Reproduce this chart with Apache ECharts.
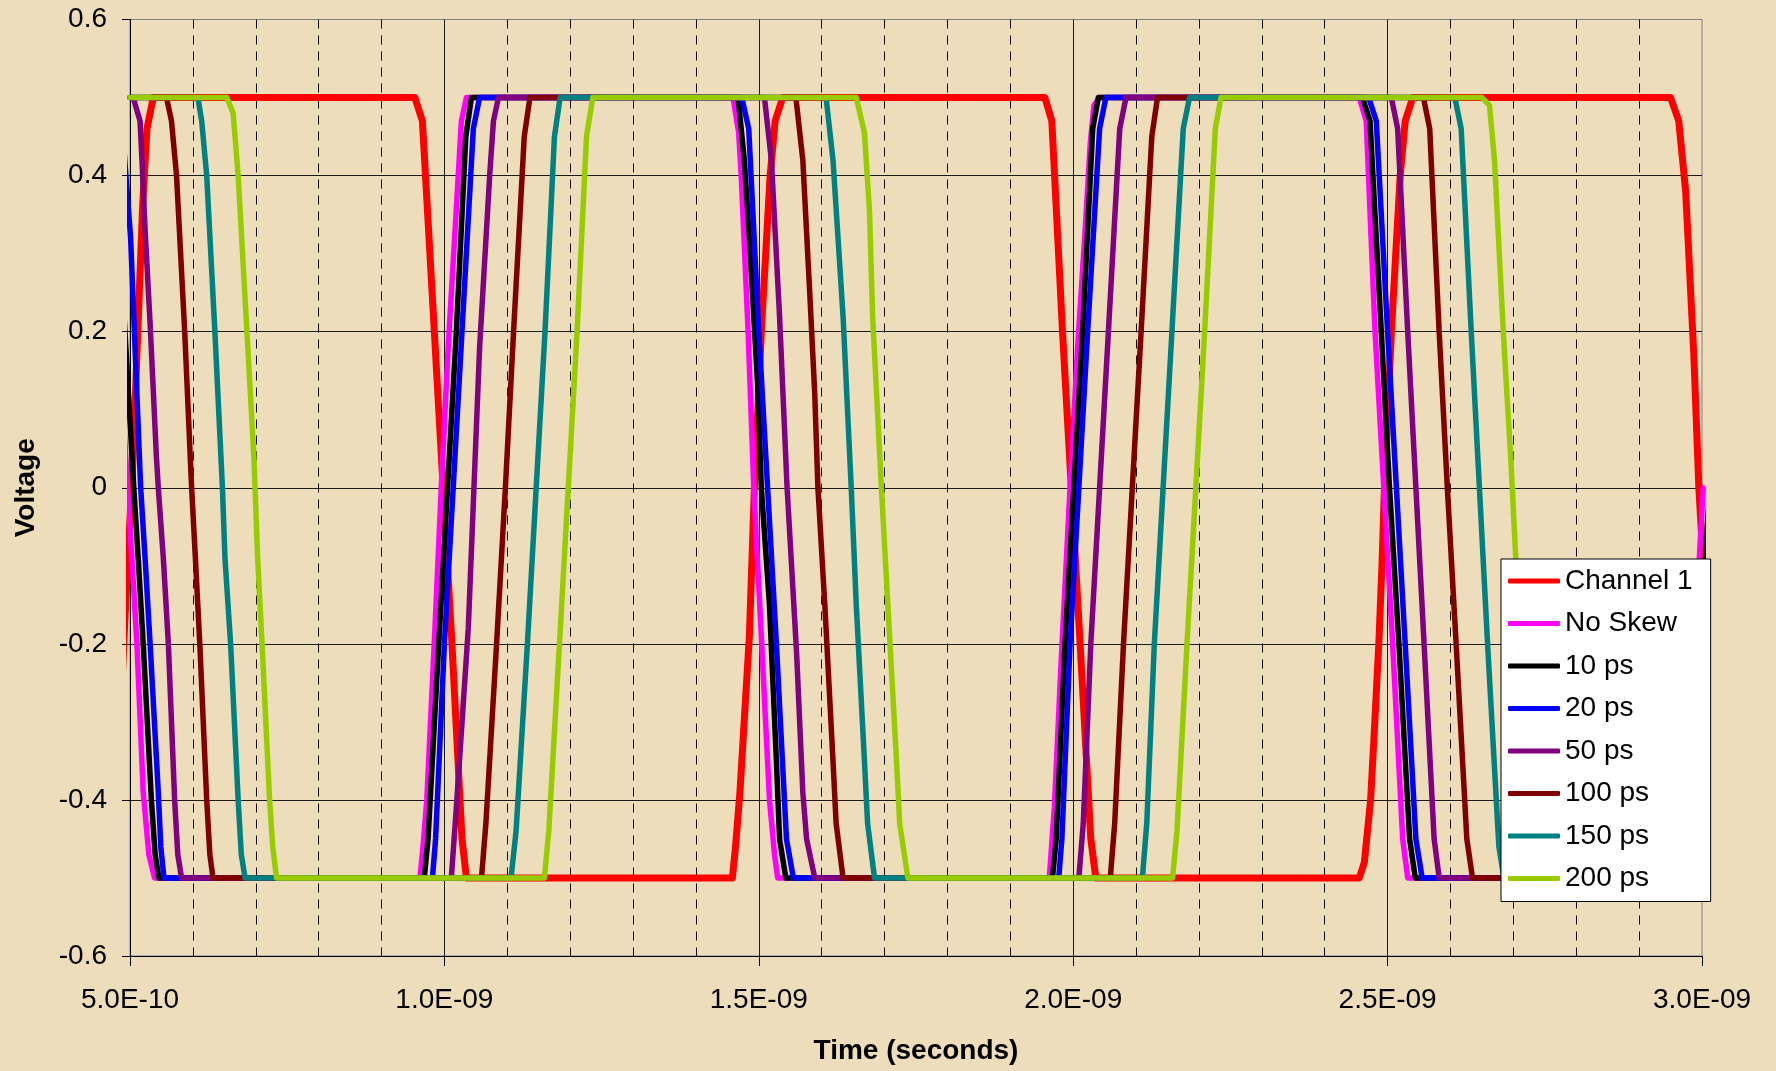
<!DOCTYPE html>
<html>
<head>
<meta charset="utf-8">
<title>Skewed channel waveforms</title>
<script src="https://cdn.jsdelivr.net/npm/echarts@6/dist/echarts.min.js"></script>
<style>
  html, body { margin: 0; padding: 0; background: #EEDDBA; }
  #chart { width: 1776px; height: 1071px; }
</style>
</head>
<body>
<div id="chart"></div>
<script>
// Time in picoseconds, voltage in volts.
const channel1 = [
  [470,-0.5],[478,-0.44],[490,-0.2],[505,0.04],[511,0.17],[520,0.36],[527,0.46],[537,0.5],
  [953,0.5],[965,0.47],[984,0.2],[998,0],[1012,-0.2],[1028,-0.45],[1035,-0.5],
  [1458,-0.5],[1463,-0.46],[1470,-0.39],[1485,-0.19],[1493,0],[1504,0.2],[1518,0.4],[1526,0.47],[1538,0.5],
  [1955,0.5],[1966,0.47],[1983,0.2],[1997,0],[2011,-0.2],[2028,-0.45],[2036,-0.5],
  [2455,-0.5],[2463,-0.48],[2468,-0.44],[2473,-0.4],[2479,-0.31],[2486,-0.2],[2491,-0.1],[2495,0],[2506,0.2],[2520,0.4],[2528,0.47],[2540,0.5],
  [2950,0.5],[2963,0.47],[2974,0.38],[2987,0.17],[2995,0],[3009,-0.2]
];
const noSkew = [
  [451,0.5],[463,0.47],[482,0.2],[496,0],[503,-0.09],[511,-0.2],[521,-0.39],[530,-0.47],[539,-0.5],
  [961,-0.5],[966,-0.46],[972,-0.4],[985,-0.18],[995,0],[1006,0.18],[1022,0.4],[1027,0.47],[1035,0.5],
  [1459,0.5],[1468,0.455],[1472,0.4],[1483,0.2],[1492,0],[1504,-0.19],[1517,-0.4],[1525,-0.47],[1530,-0.5],
  [1962,-0.5],[1970,-0.41],[1981,-0.22],[1995,0],[2007,0.18],[2019,0.33],[2027,0.44],[2033,0.49],[2042,0.5],
  [2455,0.5],[2466,0.47],[2480,0.2],[2494,0],[2508,-0.2],[2524,-0.45],[2532,-0.5],
  [2965,-0.5],[2972,-0.45],[2988,-0.2],[3002,0]
];
const skew10 = [
  [461,0.5],[473,0.47],[492,0.2],[506,0],[513,-0.09],[521,-0.2],[534,-0.4],[540,-0.47],[546,-0.5],
  [968,-0.5],[974,-0.45],[991,-0.2],[1005,0],[1019,0.2],[1034,0.45],[1043,0.5],
  [1467,0.5],[1477,0.42],[1485,0.32],[1499,0.12],[1504,0],[1517,-0.15],[1528,-0.35],[1533,-0.45],[1543,-0.5],
  [1967,-0.5],[1973,-0.45],[1987,-0.2],[2001,0],[2015,0.2],[2031,0.46],[2040,0.5],
  [2460,0.5],[2472,0.47],[2490,0.2],[2503,0],[2518,-0.2],[2535,-0.45],[2544,-0.5],
  [2975,-0.5],[2982,-0.45],[2998,-0.2],[3012,0]
];
const skew20 = [
  [475,0.5],[487,0.47],[501,0.32],[517,0],[524,-0.09],[532,-0.2],[545,-0.39],[549,-0.46],[554,-0.5],
  [981,-0.5],[986,-0.45],[1000,-0.2],[1014,0],[1028,0.2],[1046,0.46],[1056,0.5],
  [1473,0.5],[1484,0.46],[1500,0.2],[1514,0],[1528,-0.2],[1544,-0.45],[1555,-0.5],
  [1977,-0.5],[1982,-0.45],[1995,-0.2],[2009,0],[2023,0.2],[2042,0.46],[2052,0.5],
  [2470,0.5],[2482,0.47],[2500,0.2],[2514,0],[2528,-0.2],[2545,-0.45],[2555,-0.5],
  [2985,-0.5],[2992,-0.45],[3008,-0.2]
];
const skew50 = [
  [500,0.5],[505,0.5],[516,0.47],[519,0.42],[524,0.33],[532,0.21],[542,0.04],[545,0],[553,-0.09],[561,-0.2],[571,-0.4],[576,-0.47],[582,-0.5],
  [1011,-0.5],[1019,-0.41],[1038,-0.18],[1047,0],[1056,0.18],[1072,0.4],[1078,0.47],[1086,0.5],
  [1509,0.5],[1520,0.42],[1533,0.22],[1545,0],[1560,-0.21],[1570,-0.39],[1576,-0.45],[1589,-0.5],
  [2009,-0.5],[2016,-0.43],[2028,-0.2],[2042,0],[2056,0.2],[2074,0.46],[2084,0.5],
  [2506,0.5],[2516,0.46],[2532,0.2],[2545,0],[2558,-0.2],[2574,-0.45],[2582,-0.5],
  [3000,-0.5]
];
const skew100 = [
  [500,0.5],[558,0.5],[566,0.47],[574,0.4],[587,0.2],[598,0],[604,-0.09],[611,-0.2],[622,-0.4],[627,-0.47],[632,-0.5],
  [1059,-0.5],[1066,-0.43],[1083,-0.2],[1097,0],[1110,0.2],[1127,0.45],[1136,0.5],
  [1559,0.5],[1570,0.42],[1581,0.25],[1589,0.12],[1594,0],[1605,-0.15],[1618,-0.35],[1623,-0.43],[1634,-0.5],
  [2059,-0.5],[2066,-0.43],[2080,-0.2],[2094,0],[2108,0.2],[2125,0.45],[2134,0.5],
  [2557,0.5],[2567,0.46],[2582,0.2],[2595,0],[2609,-0.2],[2626,-0.45],[2635,-0.5],
  [3000,-0.5]
];
const skew150 = [
  [500,0.5],[608,0.5],[614,0.47],[622,0.4],[635,0.2],[647,0],[651,-0.09],[660,-0.2],[672,-0.4],[677,-0.47],[683,-0.5],
  [1106,-0.5],[1114,-0.44],[1132,-0.2],[1146,0],[1160,0.2],[1175,0.45],[1184,0.5],
  [1607,0.5],[1618,0.42],[1634,0.22],[1647,0],[1655,-0.15],[1668,-0.35],[1673,-0.43],[1684,-0.5],
  [2110,-0.5],[2117,-0.43],[2129,-0.2],[2143,0],[2157,0.2],[2175,0.46],[2185,0.5],
  [2607,0.5],[2617,0.46],[2633,0.2],[2646,0],[2659,-0.2],[2677,-0.46],[2685,-0.5],
  [3000,-0.5]
];
const skew200 = [
  [500,0.5],[654,0.5],[664,0.48],[672,0.4],[686,0.2],[697,0.04],[703,-0.09],[710,-0.2],[722,-0.4],[727,-0.46],[733,-0.5],
  [1159,-0.5],[1166,-0.44],[1183,-0.2],[1197,0],[1211,0.2],[1226,0.45],[1236,0.5],
  [1655,0.5],[1668,0.455],[1676,0.355],[1681,0.22],[1695,0],[1708,-0.19],[1719,-0.35],[1724,-0.43],[1737,-0.5],
  [2158,-0.5],[2165,-0.44],[2181,-0.2],[2195,0],[2209,0.2],[2226,0.46],[2235,0.5],
  [2650,0.5],[2662,0.49],[2670,0.42],[2677,0.31],[2685,0.185],[2696,0.036],[2704,-0.093],[2711,-0.2],[2723,-0.4],[2729,-0.47],[2736,-0.5],
  [3000,-0.5]
];

const seriesNames = ['Channel 1', 'No Skew', '10 ps', '20 ps', '50 ps', '100 ps', '150 ps', '200 ps'];
const seriesData = [channel1, noSkew, skew10, skew20, skew50, skew100, skew150, skew200];
const seriesColors = ['#FF0000', '#FF00FF', '#000000', '#0000FF', '#800080', '#800000', '#008080', '#99CC00'];
const seriesWidths = [7, 5.5, 5.5, 5.5, 5.5, 5.5, 5.5, 5.5];

const xTickValues = [500, 1000, 1500, 2000, 2500, 3000];
const xTickLabels = ['5.0E-10', '1.0E-09', '1.5E-09', '2.0E-09', '2.5E-09', '3.0E-09'];
const yTickValues = [-0.6, -0.4, -0.2, 0, 0.2, 0.4, 0.6];
const yTickLabels = ['-0.6', '-0.4', '-0.2', '0', '0.2', '0.4', '0.6'];

const FONT = '"Liberation Sans", Arial, Helvetica, sans-serif';

function nearestLabel(values, labels, v) {
  let best = 0;
  for (let i = 1; i < values.length; i++) {
    if (Math.abs(values[i] - v) < Math.abs(values[best] - v)) best = i;
  }
  return labels[best];
}

const chart = echarts.init(document.getElementById('chart'), null, { renderer: 'canvas' });

const option = {
  animation: false,
  textStyle: { fontFamily: FONT },
  grid: {
    left: 130, right: 74, top: 19.5, bottom: 115,
    show: true, borderColor: '#808080', borderWidth: 1, backgroundColor: 'transparent'
  },
  xAxis: {
    type: 'value',
    min: 500, max: 3000, interval: 500,
    name: 'Time (seconds)',
    nameLocation: 'middle',
    nameGap: 81,
    nameTextStyle: { fontFamily: FONT, fontSize: 28, fontWeight: 'bold', color: '#000' },
    axisLine: { show: true, onZero: false, lineStyle: { color: '#000', width: 1 } },
    axisTick: { show: true, inside: false, length: 10, lineStyle: { color: '#000', width: 1 } },
    axisLabel: {
      fontFamily: FONT, fontSize: 28, color: '#000', margin: 30,
      formatter: v => nearestLabel(xTickValues, xTickLabels, v)
    },
    splitLine: { show: true, showMinLine: false, showMaxLine: false, lineStyle: { color: '#1a1a1a', width: 1 } },
    minorTick: { show: false, splitNumber: 5 },
    minorSplitLine: { show: true, lineStyle: { color: '#111', width: 1, type: [9, 7] } }
  },
  yAxis: {
    type: 'value',
    min: -0.6, max: 0.6, interval: 0.2,
    name: 'Voltage',
    nameLocation: 'middle',
    nameGap: 90,
    nameTextStyle: { fontFamily: FONT, fontSize: 28, fontWeight: 'bold', color: '#000' },
    axisLine: { show: true, onZero: false, lineStyle: { color: '#000', width: 1 } },
    axisTick: { show: true, inside: false, length: 8, lineStyle: { color: '#000', width: 1 } },
    axisLabel: {
      fontFamily: FONT, fontSize: 28, color: '#000', margin: 23,
      formatter: v => nearestLabel(yTickValues, yTickLabels, v)
    },
    splitLine: { show: true, showMinLine: false, showMaxLine: false, lineStyle: { color: '#1a1a1a', width: 1 } }
  },
  legend: {
    orient: 'vertical',
    left: 1501, top: 559,
    data: seriesNames,
    selectedMode: false,
    icon: 'roundRect',
    itemWidth: 52, itemHeight: 5, itemGap: 12.5,
    backgroundColor: '#FFFFFF',
    borderColor: '#000', borderWidth: 1, borderRadius: 0,
    padding: [7, 18, 8, 7],
    textStyle: { fontFamily: FONT, fontSize: 28, color: '#000', lineHeight: 30 }
  },
  series: seriesNames.map((name, i) => ({
    name: name,
    type: 'line',
    data: seriesData[i],
    color: seriesColors[i],
    showSymbol: false,
    symbol: 'none',
    silent: true,
    clip: true,
    lineStyle: { color: seriesColors[i], width: seriesWidths[i], cap: 'round', join: 'round' },
    emphasis: { disabled: true }
  }))
};

chart.setOption(option);
</script>
</body>
</html>
